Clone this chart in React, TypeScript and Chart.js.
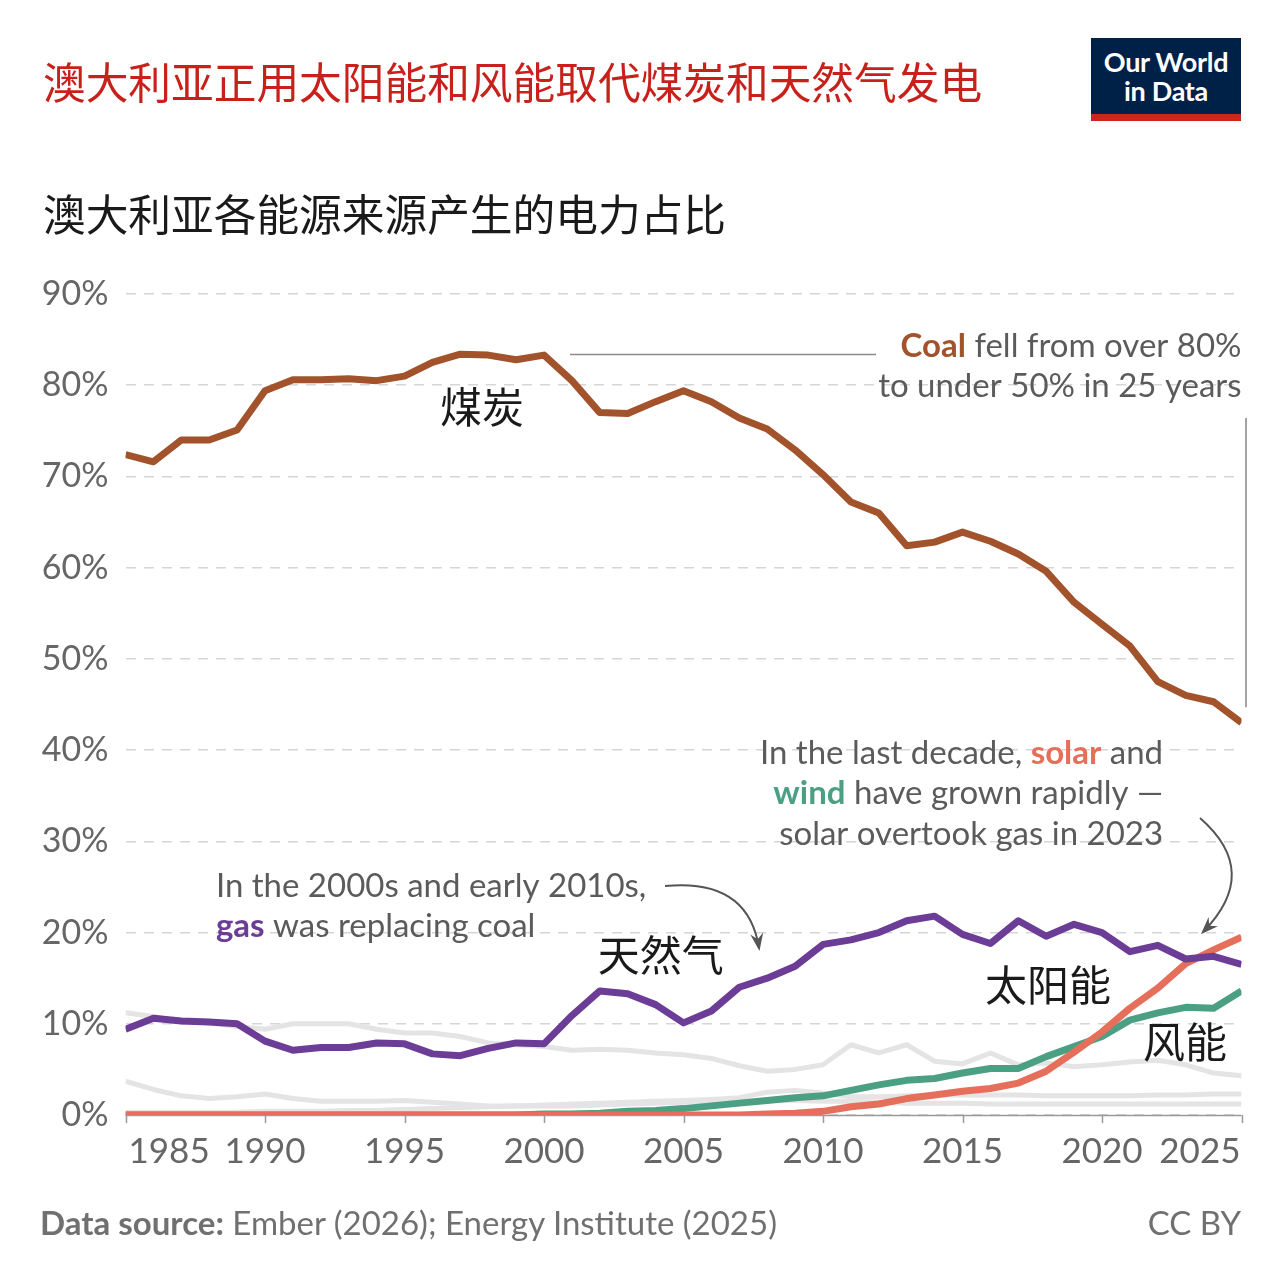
import React, { useEffect, useRef } from "react";
import { Chart, registerables } from "chart.js";

Chart.register(...registerables);

// Share of electricity generated in Australia by source, 1985–2025 (%)
const years = [
  1985, 1986, 1987, 1988, 1989, 1990, 1991, 1992, 1993, 1994,
  1995, 1996, 1997, 1998, 1999, 2000, 2001, 2002, 2003, 2004,
  2005, 2006, 2007, 2008, 2009, 2010, 2011, 2012, 2013, 2014,
  2015, 2016, 2017, 2018, 2019, 2020, 2021, 2022, 2023, 2024, 2025,
];

const coal = [
  72.4, 71.6, 74.0, 74.0, 75.1, 79.4, 80.6, 80.6, 80.7, 80.5,
  81.0, 82.5, 83.4, 83.3, 82.8, 83.3, 80.5, 77.0, 76.9, 78.2,
  79.4, 78.2, 76.4, 75.2, 72.9, 70.2, 67.2, 66.0, 62.4, 62.8,
  63.9, 62.9, 61.5, 59.6, 56.2, 53.8, 51.4, 47.5, 46.0, 45.3, 43.0,
];

const gas = [
  9.4, 10.6, 10.3, 10.2, 10.0, 8.1, 7.1, 7.4, 7.4, 7.9,
  7.8, 6.7, 6.5, 7.3, 7.9, 7.8, 10.9, 13.6, 13.3, 12.1,
  10.1, 11.4, 14.0, 15.0, 16.3, 18.7, 19.2, 20.0, 21.3, 21.8,
  19.8, 18.8, 21.3, 19.6, 20.9, 20.0, 17.9, 18.6, 17.1, 17.4, 16.5,
];

const solar = [
  0, 0, 0, 0, 0, 0, 0, 0, 0, 0,
  0, 0, 0, 0, 0, 0, 0, 0, 0, 0,
  0, 0, 0, 0.1, 0.2, 0.4, 0.9, 1.2, 1.8, 2.2,
  2.6, 2.9, 3.5, 4.8, 6.9, 9.1, 11.7, 13.9, 16.6, 18.1, 19.5,
];

const wind = [
  0, 0, 0, 0, 0, 0, 0, 0, 0, 0,
  0, 0, 0, 0, 0, 0.1, 0.1, 0.2, 0.4, 0.5,
  0.7, 1.0, 1.3, 1.6, 1.9, 2.1, 2.7, 3.3, 3.8, 4.0,
  4.6, 5.1, 5.1, 6.4, 7.5, 8.6, 10.4, 11.2, 11.8, 11.7, 13.6,
];

const hydro = [
  11.2, 10.8, 10.2, 10.1, 9.7, 9.4, 10.0, 10.0, 10.0, 9.4,
  9.0, 9.0, 8.6, 7.9, 7.7, 7.5, 7.1, 7.2, 7.1, 6.8,
  6.6, 6.2, 5.4, 4.8, 5.0, 5.5, 7.7, 6.8, 7.7, 5.9,
  5.6, 6.8, 5.5, 5.7, 5.3, 5.5, 5.8, 6.0, 5.5, 4.6, 4.3,
];

const oil = [
  3.7, 2.8, 2.1, 1.8, 2.0, 2.3, 1.8, 1.5, 1.5, 1.5,
  1.6, 1.4, 1.2, 1.0, 1.0, 1.1, 1.2, 1.3, 1.4, 1.5,
  1.6, 1.7, 1.9, 2.5, 2.7, 2.4, 2.0, 2.0, 2.1, 2.2,
  2.2, 2.2, 2.2, 2.1, 2.1, 2.1, 2.1, 2.2, 2.2, 2.3, 2.3,
];

const bioenergy = [
  0.3, 0.3, 0.3, 0.3, 0.3, 0.4, 0.4, 0.4, 0.5, 0.5,
  0.6, 0.7, 0.8, 0.9, 1.0, 1.0, 1.0, 1.1, 1.2, 1.3,
  1.4, 1.5, 1.5, 1.6, 1.6, 1.5, 1.5, 1.4, 1.3, 1.3,
  1.3, 1.2, 1.2, 1.2, 1.2, 1.2, 1.2, 1.2, 1.2, 1.2, 1.2,
];

const xTickYears = [1985, 1990, 1995, 2000, 2005, 2010, 2015, 2020, 2025];
const yTickStep = 10;
const yMax = 90;

const COAL = "#a2532b";
const GAS = "#6c3d96";
const SOLAR = "#e56f5b";
const WIND = "#4ba084";
const GREY_LINE = "#e4e4e4";
const TEXT = "#5b5b5b";
const AXIS = "#9a9a9a";
const NOTE_SIZE = 33;

const series = (values: number[]) => years.map((yr, i) => ({ x: yr, y: values[i] }));

type Run = { text: string; bold?: boolean; color?: string };

function drawRuns(ctx: CanvasRenderingContext2D, runs: Run[], x: number, y: number, align: "left" | "right") {
  const fontOf = (r: Run) => `${r.bold ? "bold " : ""}${NOTE_SIZE}px Lato`;
  const widths = runs.map((r) => {
    ctx.font = fontOf(r);
    return ctx.measureText(r.text).width;
  });
  const total = widths.reduce((a, b) => a + b, 0);
  let cx = align === "right" ? x - total : x;
  ctx.textAlign = "left";
  ctx.textBaseline = "alphabetic";
  runs.forEach((r, i) => {
    ctx.font = fontOf(r);
    ctx.fillStyle = r.color || TEXT;
    ctx.fillText(r.text, cx, y);
    cx += widths[i];
  });
}

function arrow(ctx: CanvasRenderingContext2D, sx: number, sy: number, cx: number, cy: number, ex: number, ey: number) {
  ctx.beginPath();
  ctx.moveTo(sx, sy);
  ctx.quadraticCurveTo(cx, cy, ex, ey);
  ctx.stroke();
  const ang = Math.atan2(ey - cy, ex - cx);
  const len = 16;
  const spread = 0.42;
  ctx.beginPath();
  ctx.moveTo(ex + Math.cos(ang) * 3, ey + Math.sin(ang) * 3);
  ctx.lineTo(ex - Math.cos(ang - spread) * len, ey - Math.sin(ang - spread) * len);
  ctx.lineTo(ex - Math.cos(ang) * (len * 0.55), ey - Math.sin(ang) * (len * 0.55));
  ctx.lineTo(ex - Math.cos(ang + spread) * len, ey - Math.sin(ang + spread) * len);
  ctx.closePath();
  ctx.fill();
}

const axisPlugin = {
  id: "xAxisDecor",
  beforeDatasetsDraw(chart: any) {
    const { ctx, chartArea, scales } = chart;
    const xs = scales.x;
    ctx.save();
    ctx.strokeStyle = AXIS;
    ctx.lineWidth = 1.5;
    ctx.beginPath();
    ctx.moveTo(chartArea.left, chartArea.bottom + 0.5);
    ctx.lineTo(chartArea.right, chartArea.bottom + 0.5);
    ctx.stroke();
    xTickYears.forEach((yr) => {
      const px = Math.round(xs.getPixelForValue(yr)) + 0.5;
      ctx.beginPath();
      ctx.moveTo(px, chartArea.bottom);
      ctx.lineTo(px, chartArea.bottom + 8);
      ctx.stroke();
    });
    ctx.restore();
  },
  afterDatasetsDraw(chart: any) {
    const { ctx, chartArea, scales } = chart;
    const xs = scales.x;
    const ys = scales.y;
    const X = (v: number) => xs.getPixelForValue(v);
    const Y = (v: number) => ys.getPixelForValue(v);
    ctx.save();

    // year labels
    ctx.font = "35px Lato";
    ctx.fillStyle = "#666666";
    ctx.textBaseline = "alphabetic";
    const base = chartArea.bottom + 48;
    xTickYears.forEach((yr, i) => {
      const px = X(yr);
      if (i === 0) {
        ctx.textAlign = "left";
        ctx.fillText(String(yr), px + 3, base);
      } else if (i === xTickYears.length - 1) {
        ctx.textAlign = "right";
        ctx.fillText(String(yr), px - 1, base);
      } else {
        ctx.textAlign = "center";
        ctx.fillText(String(yr), px, base);
      }
    });

    // series names
    ctx.font = "42px 'Noto Sans CJK SC'";
    ctx.fillStyle = "#1a1a1a";
    ctx.textAlign = "left";
    ctx.textBaseline = "middle";
    ctx.fillText("煤炭", X(1996.27), Y(77.6));
    ctx.fillText("天然气", X(2001.93), Y(17.5));
    ctx.fillText("太阳能", X(2015.81), Y(14.25));
    ctx.fillText("风能", X(2021.47), Y(8.0));

    // coal note
    const coalRight = chartArea.right;
    const coalBase = Y(83.1);
    drawRuns(ctx, [{ text: "Coal", bold: true, color: COAL }, { text: " fell from over 80%" }], coalRight, coalBase, "right");
    drawRuns(ctx, [{ text: "to under 50% in 25 years" }], coalRight, coalBase + 40, "right");
    ctx.strokeStyle = "#8c8c8c";
    ctx.lineWidth = 1.6;
    ctx.beginPath();
    ctx.moveTo(570, Math.round(coalBase - 3) + 0.5);
    ctx.lineTo(876, Math.round(coalBase - 3) + 0.5);
    ctx.stroke();
    ctx.beginPath();
    ctx.moveTo(chartArea.right + 4.5, Y(76.4));
    ctx.lineTo(chartArea.right + 4.5, Y(44.7));
    ctx.stroke();

    // solar & wind note
    const swRight = X(2022.19);
    const swBase = Y(38.5);
    drawRuns(ctx, [{ text: "In the last decade, " }, { text: "solar", bold: true, color: SOLAR }, { text: " and" }], swRight, swBase, "right");
    drawRuns(ctx, [{ text: "wind", bold: true, color: WIND }, { text: " have grown rapidly —" }], swRight, swBase + 40.5, "right");
    drawRuns(ctx, [{ text: "solar overtook gas in 2023" }], swRight, swBase + 81, "right");

    // gas note
    const gLeft = X(1988.24);
    const gBase = Y(23.9);
    drawRuns(ctx, [{ text: "In the 2000s and early 2010s," }], gLeft, gBase, "left");
    drawRuns(ctx, [{ text: "gas", bold: true, color: GAS }, { text: " was replacing coal" }], gLeft, gBase + 40.5, "left");

    // arrows
    ctx.strokeStyle = "#555555";
    ctx.fillStyle = "#555555";
    ctx.lineWidth = 2;
    arrow(ctx, 665, 886, 748, 878, 759, 948);
    arrow(ctx, 1200, 818, 1262, 872, 1203, 932);

    ctx.restore();
  },
};

export default function App() {
  const canvasRef = useRef<HTMLCanvasElement | null>(null);

  useEffect(() => {
    const canvas = canvasRef.current;
    if (!canvas) return;
    const thin = (label: string, values: number[]) => ({
      label,
      data: series(values),
      borderColor: GREY_LINE,
      borderWidth: 5,
      pointRadius: 0,
      borderJoinStyle: "round" as const,
      order: 10,
    });
    const bold = (label: string, values: number[], color: string, order: number) => ({
      label,
      data: series(values),
      borderColor: color,
      borderWidth: 7,
      pointRadius: 0,
      borderJoinStyle: "round" as const,
      order,
    });
    const chart = new Chart(canvas, {
      type: "line",
      data: {
        datasets: [
          bold("煤炭", coal, COAL, 0),
          bold("天然气", gas, GAS, 1),
          bold("太阳能", solar, SOLAR, 2),
          bold("风能", wind, WIND, 3),
          thin("水电", hydro),
          thin("石油", oil),
          thin("生物能源", bioenergy),
        ],
      },
      options: {
        responsive: false,
        devicePixelRatio: 1,
        animation: false,
        events: [],
        layout: { padding: { top: 294, bottom: 165, left: 0, right: 38.5 } },
        plugins: { legend: { display: false }, tooltip: { enabled: false }, title: { display: false } },
        scales: {
          x: {
            type: "linear",
            min: years[0],
            max: years[years.length - 1],
            display: false,
          },
          y: {
            min: 0,
            max: yMax,
            afterFit: (scale: any) => {
              scale.width = 125.5;
            },
            afterBuildTicks: (scale: any) => {
              const t = [];
              for (let v = 0; v <= yMax; v += yTickStep) t.push({ value: v });
              scale.ticks = t;
            },
            border: { display: false },
            grid: {
              color: "#d6d6d6",
              lineWidth: 1.5,
              drawTicks: false,
            },
            ticks: {
              padding: 17,
              color: "#666666",
              font: { family: "Lato", size: 34 },
              callback: (v: any) => `${v}%`,
            },
          },
        },
      },
      plugins: [
        {
          id: "dashGrid",
          beforeDraw(chart: any) {
            chart.options.scales.y.border.dash = [10, 8];
          },
        },
        axisPlugin,
      ],
    });
    return () => chart.destroy();
  }, []);

  const header = {
    position: "absolute" as const,
    left: 43,
    fontFamily: "'Noto Sans CJK SC'",
    fontSize: 42.7,
    lineHeight: "46px",
    whiteSpace: "nowrap" as const,
  };
  const footer = {
    position: "absolute" as const,
    top: 1203,
    fontFamily: "Lato",
    fontSize: 33,
    lineHeight: "38px",
    color: "#707070",
    whiteSpace: "nowrap" as const,
  };

  return (
    <div style={{ position: "absolute", left: 0, top: 0, width: 1280, height: 1280, background: "#ffffff", overflow: "hidden" }}>
      <canvas ref={canvasRef} width={1280} height={1280} style={{ position: "absolute", left: 0, top: 0 }} />
      <div style={{ ...header, top: 57, color: "#c8211c" }}>澳大利亚正用太阳能和风能取代煤炭和天然气发电</div>
      <div style={{ ...header, top: 189, color: "#1a1a1a" }}>澳大利亚各能源来源产生的电力占比</div>
      <div
        style={{
          position: "absolute",
          left: 1091,
          top: 38,
          width: 150,
          height: 83,
          background: "#002147",
          boxSizing: "border-box",
          borderBottom: "7px solid #ce261e",
          color: "#ffffff",
          fontFamily: "Lato",
          fontWeight: 700,
          fontSize: 27,
          lineHeight: "29px",
          textAlign: "center",
          paddingTop: 9,
          letterSpacing: "-0.3px",
        }}
      >
        <div>Our World</div>
        <div>in Data</div>
      </div>
      <div style={{ ...footer, left: 40 }}>
        <span style={{ fontWeight: 700 }}>Data source:</span> Ember (2026); Energy Institute (2025)
      </div>
      <div style={{ ...footer, right: 39 }}>CC BY</div>
    </div>
  );
}
